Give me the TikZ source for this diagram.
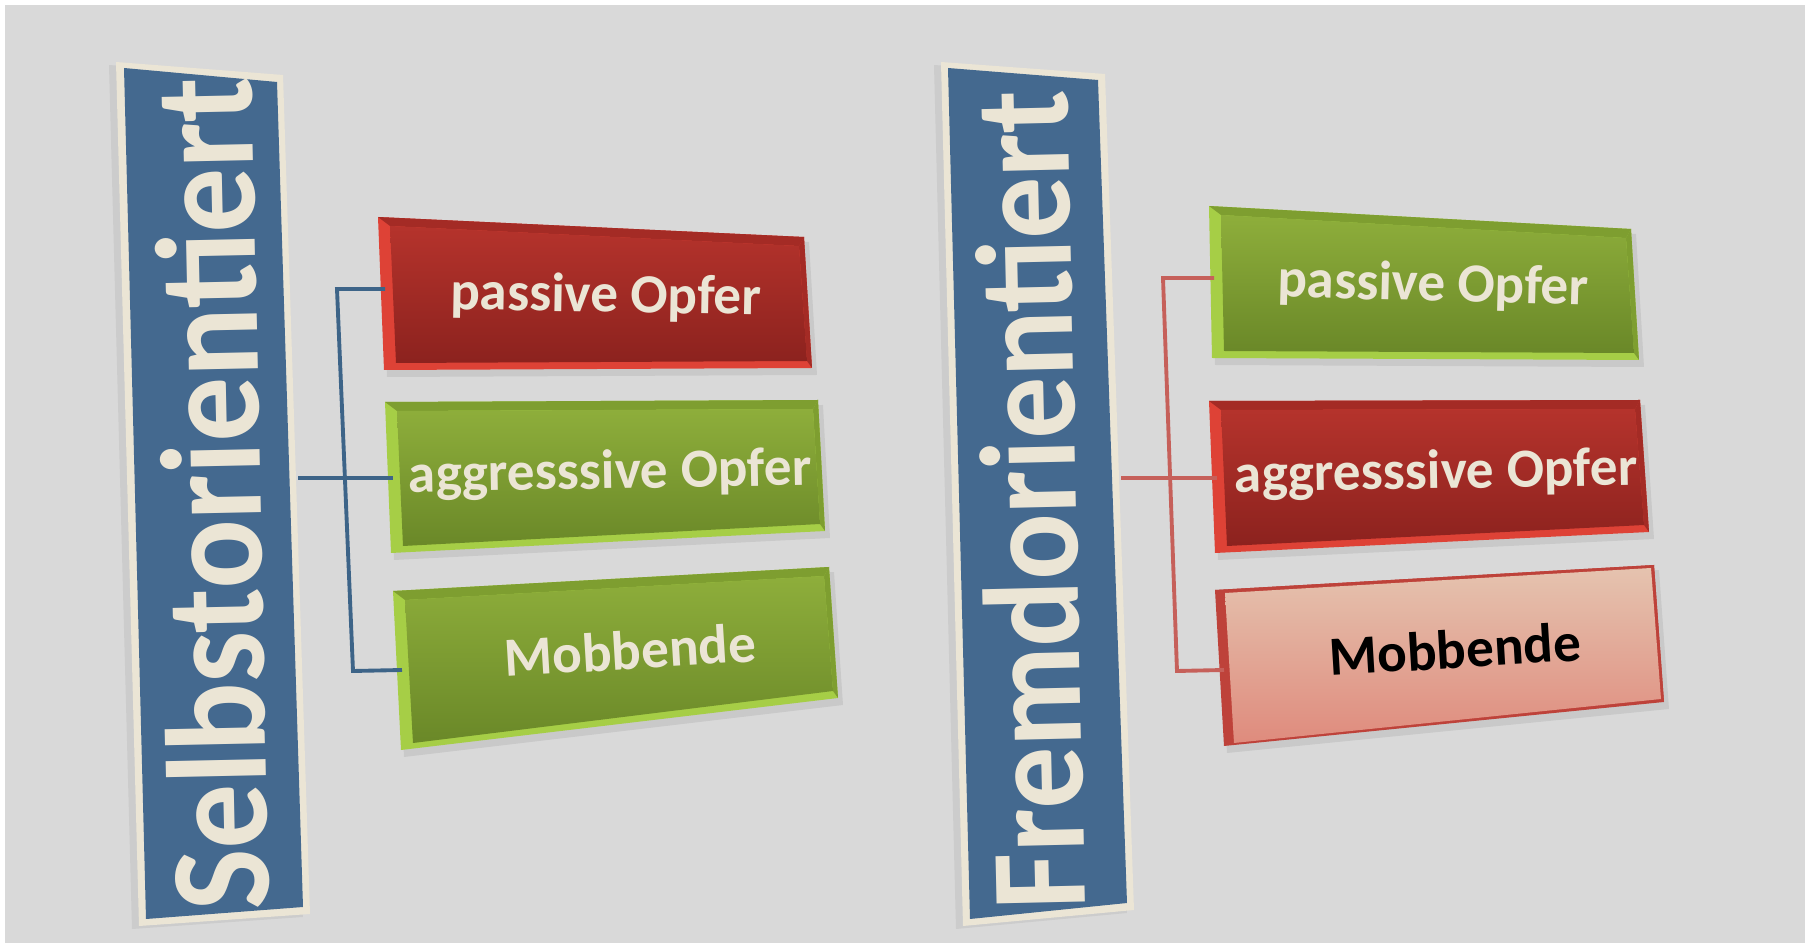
\documentclass[tikz,border=0pt]{standalone}
\usepackage{fontspec}
\setmainfont{Carlito}
\usetikzlibrary{calc}

\definecolor{bggray}{HTML}{D9D9D9}
\definecolor{cream}{HTML}{EBE5D5}
\definecolor{bannerblue}{HTML}{44698F}
\definecolor{redtop}{HTML}{B5332C}
\definecolor{redbot}{HTML}{8C221E}
\definecolor{redbevel}{HTML}{DE4236}
\definecolor{rededge}{HTML}{A42B25}
\definecolor{greentop}{HTML}{8EAE3B}
\definecolor{greenbot}{HTML}{6A8828}
\definecolor{greenbevel}{HTML}{A6CE46}
\definecolor{greenedge}{HTML}{7E9E30}
\definecolor{pinktop}{HTML}{E5C3AF}
\definecolor{pinkbot}{HTML}{DF8B7D}
\definecolor{pinkframe}{HTML}{BE423A}
\definecolor{bluelinkc}{HTML}{3D6488}
\definecolor{redlinkc}{HTML}{C6605A}

\tikzset{
  boxtext/.style={font=\fontsize{15.7}{18}\selectfont\bfseries, text=cream, inner sep=0pt},
  bannertext/.style={font=\fontsize{36}{40}\selectfont\bfseries, text=cream, inner sep=0pt},
  bluelink/.style={draw=bluelinkc, line width=1.1pt},
  redlink/.style={draw=redlinkc, line width=1.1pt},
}

% face insets of a slab: left, top, right, bottom
\def\slabinset{12/9/5/7}
% slab: name, tl, tr, br, bl, bevel, edge, face top, face bottom
\newcommand{\slab}[9]{%
  \coordinate (#1tl) at (#2); \coordinate (#1tr) at (#3);
  \coordinate (#1br) at (#4); \coordinate (#1bl) at (#5);
  \foreach \il/\it/\ir/\ib in \slabinset {
    \coordinate (#1itl) at ($(#1tl)+(\il,\it)$);
    \coordinate (#1itr) at ($(#1tr)+(-\ir,\it)$);
    \coordinate (#1ibr) at ($(#1br)+(-\ir,-\ib)$);
    \coordinate (#1ibl) at ($(#1bl)+(\il,-\ib)$);
  }
  \fill[black, opacity=0.07] ($(#1tl)+(3,5)$) -- ($(#1tr)+(5,5)$) -- ($(#1br)+(5,7)$) -- ($(#1bl)+(3,7)$) -- cycle;
  \fill[#6] (#1tl) -- (#1tr) -- (#1br) -- (#1bl) -- cycle;
  \fill[#7] (#1tl) -- (#1tr) -- (#1itr) -- (#1itl) -- cycle;
  \fill[#7] (#1tr) -- (#1br) -- (#1ibr) -- (#1itr) -- cycle;
  \shade[top color=#8, bottom color=#9] (#1itl) -- (#1itr) -- (#1ibr) -- (#1ibl) -- cycle;
}

% banner: name, outer tl, tr, br, bl, inner tl, tr, br, bl
\newcommand{\banner}[9]{%
  \fill[black, opacity=0.06] ($(#2)+(-7,3)$) -- ($(#3)+(-7,3)$) -- ($(#4)+(-7,3)$) -- ($(#5)+(-7,3)$) -- cycle;
  \fill[cream] (#2) -- (#3) -- (#4) -- (#5) -- cycle;
  \fill[bannerblue] (#6) -- (#7) -- (#8) -- (#9) -- cycle;
}

\begin{document}
\begin{tikzpicture}[x=0.01cm, y=-0.01cm]
  %%%%% START %%%%%
  \useasboundingbox (0,0) rectangle (1814,943);
  \fill[white] (0,0) rectangle (1814,943);
  \fill[bggray] (5,5) rectangle (1805,943);

  % left half
  \banner{sBan}{116,62}{283,75}{310,914}{139,926}{124,68}{277,82}{303,907}{146,919}
  \node[bannertext, font=\fontsize{36.8}{40}\selectfont\bfseries, rotate=91.2] (selbst) at (211,494) {\scalebox{1}[1.1]{Selbstorientiert}};

  \slab{sPass}{378,217}{804,237}{812,368}{384,370}{redbevel}{rededge}{redtop}{redbot}
  \slab{sAggr}{385,402}{818,400}{825,531}{391,553}{greenbevel}{greenedge}{greentop}{greenbot}
  \slab{sMobb}{393,591}{829,567}{838,698}{401,750}{greenbevel}{greenedge}{greentop}{greenbot}

  \node[boxtext, rotate=-1] (sPassT) at (606,297) {passive Opfer};
  \node[boxtext, rotate=1] (sAggrT) at (610,474) {aggresssive Opfer};
  \node[boxtext, rotate=3.5] (sMobbT) at (630,650) {Mobbende};

  \coordinate (sRoot) at (298,478);
  \coordinate (sFork1) at (337,289);
  \coordinate (sFork3) at (353,671);
  \coordinate (sIn1) at (385,289);
  \coordinate (sIn2) at (393,478);
  \coordinate (sIn3) at (402,670);
  \draw[bluelink] (sIn1) -- (sFork1) -- (sFork3) -- (sIn3);
  \draw[bluelink] (sRoot) -- (sIn2);

  % right half
  \banner{fBan}{941,62}{1105,74}{1134,910}{963,926}{948,68}{1098,80}{1127,903}{970,919}
  \node[bannertext, font=\fontsize{35.2}{40}\selectfont\bfseries, rotate=91.3] (fremd) at (1029,500) {\scalebox{1}[1.1]{Fremdorientiert}};

  \slab{fPass}{1209,206}{1631,229}{1639,360}{1212,358}{greenbevel}{greenedge}{greentop}{greenbot}
  \slab{fAggr}{1209,401}{1640,400}{1649,532}{1215,553}{redbevel}{rededge}{redtop}{redbot}
  \def\slabinset{10/3/3/3}
  \slab{fMobb}{1215,590}{1654,565}{1664,702}{1224,746}{pinkframe}{pinkframe}{pinktop}{pinkbot}

  \node[boxtext, rotate=-1.5] (fPassT) at (1433,286) {passive Opfer};
  \node[boxtext, rotate=1] (fAggrT) at (1436,474) {aggresssive Opfer};
  \node[boxtext, rotate=3.5, text=black] (fMobbT) at (1455,649) {Mobbende};

  \coordinate (fRoot) at (1121,478);
  \coordinate (fFork1) at (1163,278);
  \coordinate (fFork3) at (1177,671);
  \coordinate (fIn1) at (1214,278);
  \coordinate (fIn2) at (1217,478);
  \coordinate (fIn3) at (1224,670);
  \draw[redlink] (fIn1) -- (fFork1) -- (fFork3) -- (fIn3);
  \draw[redlink] (fRoot) -- (fIn2);
  %%%%% END %%%%%
\end{tikzpicture}
\end{document}
